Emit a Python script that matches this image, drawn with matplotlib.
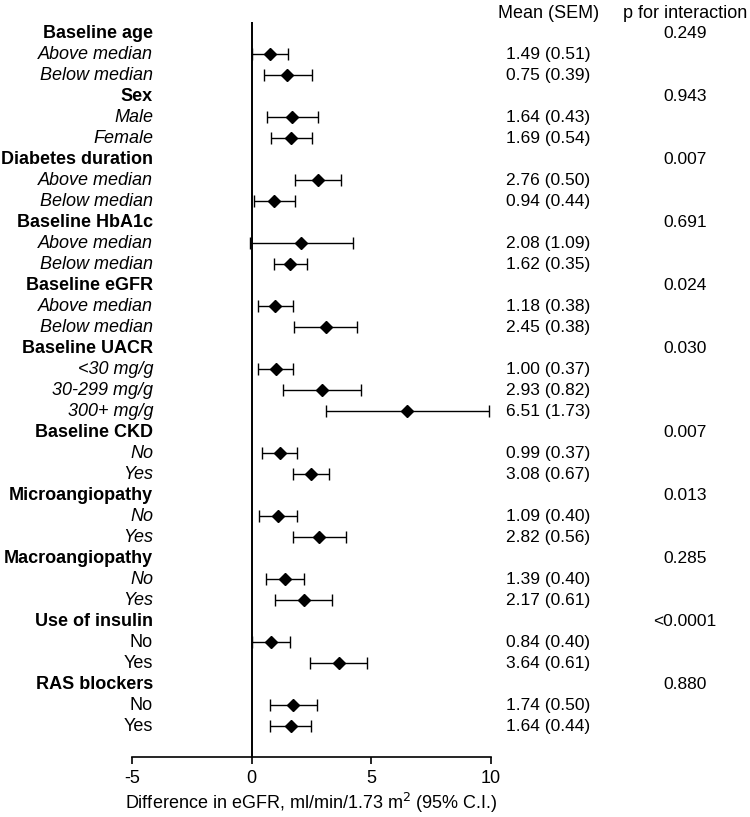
import matplotlib.pyplot as plt
import matplotlib.transforms as mtransforms

plt.rcParams['font.family'] = ['Liberation Sans', 'DejaVu Sans']
plt.rcParams['axes.unicode_minus'] = False

# categories and subgroups
groups = ["Baseline age", "Sex", "Diabetes duration", "Baseline HbA1c",
          "Baseline eGFR", "Baseline UACR", "Baseline CKD", "Microangiopathy",
          "Macroangiopathy", "Use of insulin", "RAS blockers"]
subgroups = [["Above median", "Below median"], ["Male", "Female"],
             ["Above median", "Below median"], ["Above median", "Below median"],
             ["Above median", "Below median"], ["<30 mg/g", "30-299 mg/g", "300+ mg/g"],
             ["No", "Yes"], ["No", "Yes"], ["No", "Yes"], ["No", "Yes"], ["No", "Yes"]]
italic_sub = [True, True, True, True, True, True, True, True, True, False, False]

# values as drawn in the plot (point estimate, 95% CI)
est = [[0.75, 1.49], [1.69, 1.64], [2.77, 0.95], [2.08, 1.62], [0.98, 3.09],
       [1.00, 2.94, 6.51], [1.18, 2.46], [1.10, 2.83], [1.40, 2.18],
       [0.82, 3.63], [1.73, 1.64]]
lower = [[0.0, 0.51], [0.63, 0.79], [1.79, 0.10], [-0.07, 0.93], [0.25, 1.77],
         [0.27, 1.32, 3.12], [0.45, 1.72], [0.30, 1.74], [0.61, 0.98],
         [0.03, 2.44], [0.75, 0.75]]
upper = [[1.51, 2.50], [2.76, 2.50], [3.74, 1.80], [4.22, 2.30], [1.71, 4.39],
         [1.73, 4.57, 9.93], [1.90, 3.22], [1.88, 3.92], [2.17, 3.34],
         [1.61, 4.83], [2.72, 2.48]]

# text columns
mean_sem = [["1.49 (0.51)", "0.75 (0.39)"], ["1.64 (0.43)", "1.69 (0.54)"],
            ["2.76 (0.50)", "0.94 (0.44)"], ["2.08 (1.09)", "1.62 (0.35)"],
            ["1.18 (0.38)", "2.45 (0.38)"], ["1.00 (0.37)", "2.93 (0.82)", "6.51 (1.73)"],
            ["0.99 (0.37)", "3.08 (0.67)"], ["1.09 (0.40)", "2.82 (0.56)"],
            ["1.39 (0.40)", "2.17 (0.61)"], ["0.84 (0.40)", "3.64 (0.61)"],
            ["1.74 (0.50)", "1.64 (0.44)"]]
p_inter = ["0.249", "0.943", "0.007", "0.691", "0.024", "0.030", "0.007",
           "0.013", "0.285", "<0.0001", "0.880"]

fig = plt.figure(figsize=(7.5, 8.17), dpi=100)
ax = fig.add_axes([0.176, 0.0734, 0.4787, 0.8996])

trans = mtransforms.blended_transform_factory(ax.transAxes, ax.transData)
lab_x = 0.0585
mean_x = 1.159
p_x = 1.540

row = 0
for g in range(len(groups)):
    ax.text(lab_x, row, groups[g], transform=trans, ha='right', va='center',
            fontsize=13, fontweight='bold', clip_on=False)
    ax.text(p_x, row, p_inter[g], transform=trans, ha='center', va='center',
            fontsize=12.5, clip_on=False)
    row += 1
    for k in range(len(subgroups[g])):
        ax.text(lab_x, row, subgroups[g][k], transform=trans, ha='right', va='center',
                fontsize=13, style='italic' if italic_sub[g] else 'normal', clip_on=False)
        ax.text(mean_x, row, mean_sem[g][k], transform=trans, ha='center', va='center',
                fontsize=12.5, clip_on=False)
        e = est[g][k]
        ax.errorbar([e], [row], xerr=[[e - lower[g][k]], [upper[g][k] - e]],
                    fmt='D', color='black', markersize=6, elinewidth=1,
                    capsize=4, capthick=1)
        row += 1

n_rows = row
ax.text(mean_x, -0.95, "Mean (SEM)", transform=trans, ha='center', va='center',
        fontsize=13, clip_on=False)
ax.text(p_x, -0.95, "p for interaction", transform=trans, ha='center', va='center',
        fontsize=13, clip_on=False)

ax.axvline(0, color='black', linewidth=1.4)
ax.set_xlim(-5, 10)
ax.set_ylim(n_rows - 1 + 1.476, -0.524)
ax.set_xticks([-5, 0, 5, 10])
ax.set_yticks([])
for s in ['top', 'right', 'left']:
    ax.spines[s].set_visible(False)
ax.spines['bottom'].set_linewidth(1.2)
ax.tick_params(axis='x', labelsize=13, length=5, width=1.2, pad=4)
ax.set_xlabel("Difference in eGFR, ml/min/1.73 m$^2$ (95% C.I.)", fontsize=13, labelpad=3)

fig.savefig("out.png", dpi=100)
